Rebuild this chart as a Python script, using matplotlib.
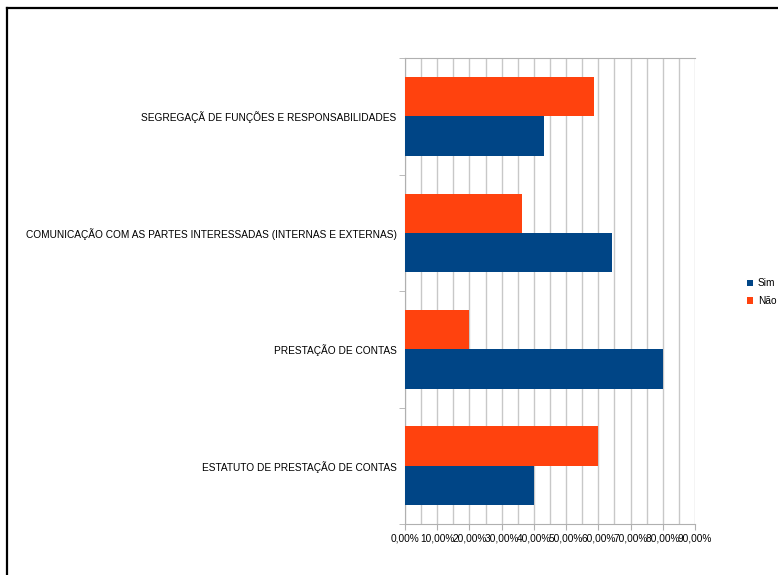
import matplotlib
matplotlib.use("Agg")
import matplotlib.pyplot as plt
import numpy as np
from matplotlib.ticker import MultipleLocator, FuncFormatter
from matplotlib.lines import Line2D

plt.rcParams['font.family'] = ['Liberation Sans', 'DejaVu Sans']

# data (bottom to top, as drawn)
categories = [
    "ESTATUTO DE PRESTAÇÃO DE CONTAS",
    "PRESTAÇÃO DE CONTAS",
    "COMUNICAÇÃO COM AS PARTES INTERESSADAS (INTERNAS E EXTERNAS)",
    "SEGREGAÇÃ DE FUNÇÕES E RESPONSABILIDADES",
]
sim = [40.0, 80.0, 64.2, 43.1]
nao = [60.0, 20.0, 36.2, 58.5]

blue = "#004586"
orange = "#ff420e"
grid_col = "#c8c8c8"
axis_col = "#b0b0b0"

fig = plt.figure(figsize=(7.78, 5.75), dpi=100)
ax = fig.add_axes([0.5206, 0.0887, 0.3727, 0.8104])

y = np.arange(len(categories))
h = 0.337
ax.barh(y - h / 2, sim, height=h, color=blue, label="Sim", zorder=3)
ax.barh(y + h / 2, nao, height=h, color=orange, label="Não", zorder=3)

ax.set_xlim(0, 90)
ax.set_ylim(-0.5, len(categories) - 0.5)

ax.xaxis.set_major_locator(MultipleLocator(10))
ax.xaxis.set_minor_locator(MultipleLocator(5))
ax.xaxis.set_major_formatter(FuncFormatter(lambda v, p: f"{v:.2f}%".replace(".", ",")))
ax.grid(axis="x", which="both", color=grid_col, linewidth=1.0, zorder=0)

ax.set_yticks(y)
ax.set_yticklabels(categories)
ax.set_yticks(np.arange(-0.5, len(categories)), minor=True)
ax.tick_params(axis="y", which="major", length=0, pad=6, labelsize=7.3)
ax.tick_params(axis="y", which="minor", length=4, color=axis_col, direction="out")
ax.tick_params(axis="x", which="major", length=4, color=axis_col, labelsize=7.3, pad=3)
ax.tick_params(axis="x", which="minor", length=0)

for s in ["top", "bottom", "left"]:
    ax.spines[s].set_color(axis_col)
ax.spines["right"].set_visible(False)

handles, labels = ax.get_legend_handles_labels()
fig.legend(handles, labels, loc="center left", bbox_to_anchor=(0.9605, 0.492),
           frameon=False, fontsize=7.3, handlelength=0.6, handleheight=0.6,
           handletextpad=0.45, labelspacing=0.75, borderaxespad=0, borderpad=0)

# outer frame (top and left edges only are inside the picture)
fig.add_artist(Line2D([0.009, 1.0], [1 - 8 / 575, 1 - 8 / 575], transform=fig.transFigure,
                      color="black", linewidth=1.6, solid_capstyle="projecting"))
fig.add_artist(Line2D([0.009, 0.009], [1 - 8 / 575, 0.0], transform=fig.transFigure,
                      color="black", linewidth=1.6, solid_capstyle="projecting"))

fig.savefig("out.png", dpi=100)
